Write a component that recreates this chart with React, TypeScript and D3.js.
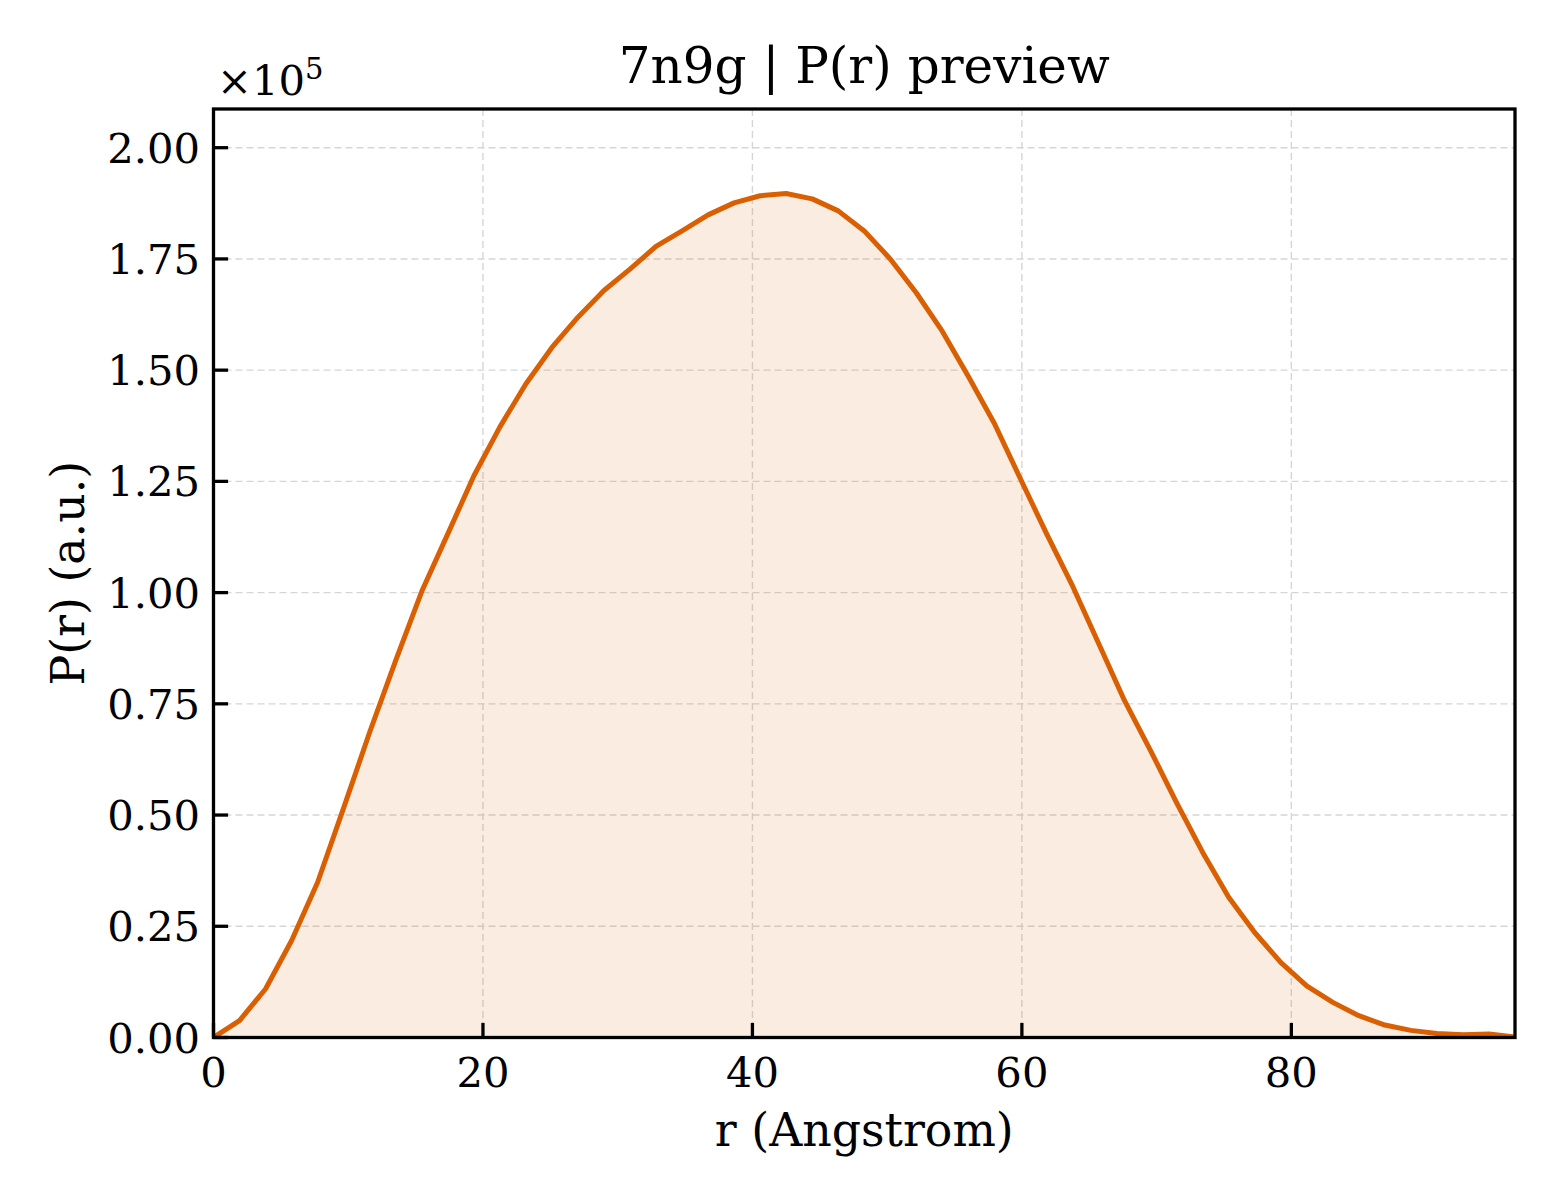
import * as React from 'react'
import * as d3 from 'd3'

const rValues = [
  0, 1.93, 3.86, 5.80, 7.73, 9.66, 11.59, 13.52, 15.46, 17.39, 19.32, 21.25, 23.18, 25.12, 27.05,
  28.98, 30.91, 32.84, 34.78, 36.71, 38.64, 40.57, 42.50, 44.44, 46.37, 48.30, 50.23, 52.16, 54.10,
  56.03, 57.96, 59.89, 61.82, 63.76, 65.69, 67.62, 69.55, 71.48, 73.42, 75.35, 77.28, 79.21, 81.14,
  83.08, 85.01, 86.94, 88.87, 90.80, 92.74, 94.67, 96.60,
]
const prValues = [
  0, 3800, 10900, 21800, 34900, 51600, 68600, 84700, 100300, 113200, 126200, 137200, 146900,
  155100, 161900, 167900, 172700, 177800, 181300, 184900, 187600, 189200, 189700, 188500, 185800,
  181300, 175000, 167400, 158700, 148600, 138000, 125600, 113300, 101500, 88600, 75700, 64500,
  52800, 41600, 31500, 23600, 16900, 11600, 7900, 4900, 2800, 1600, 900, 600, 800, 100,
]
const xTicks = [0, 20, 40, 60, 80]
const yTicks = [0, 25000, 50000, 75000, 100000, 125000, 150000, 175000, 200000]

const W = 1560
const H = 1200
const left = 213.5
const right = 1515
const top = 109
const bottom = 1037.5
const lineColor = '#d95f02'
const font = 'DejaVu Serif'

export default function App() {
  const x = d3.scaleLinear().domain([0, 96.6]).range([left, right])
  const y = d3.scaleLinear().domain([0, 208700]).range([bottom, top])

  const points = rValues.map((r, i) => [r, prValues[i]] as [number, number])
  const line = d3.line<[number, number]>().x(d => x(d[0])).y(d => y(d[1]))
  const area = d3.area<[number, number]>().x(d => x(d[0])).y0(y(0)).y1(d => y(d[1]))

  return (
    <svg width={W} height={H} style={{ position: 'absolute', left: 0, top: 0, background: '#fff' }}>
      <defs>
        <clipPath id="plot">
          <rect x={left} y={top} width={right - left} height={bottom - top} />
        </clipPath>
      </defs>

      {/* grid */}
      {xTicks.map(t => (
        <line key={'gx' + t} x1={x(t)} x2={x(t)} y1={top} y2={bottom}
          stroke="#d6d6d6" strokeWidth={1.4} strokeDasharray="7,4" />
      ))}
      {yTicks.map(t => (
        <line key={'gy' + t} x1={left} x2={right} y1={y(t)} y2={y(t)}
          stroke="#d6d6d6" strokeWidth={1.4} strokeDasharray="7,4" />
      ))}

      <g clipPath="url(#plot)">
        <path d={area(points)!} fill={lineColor} fillOpacity={0.12} />
        <path d={line(points)!} fill="none" stroke={lineColor} strokeWidth={5} strokeLinejoin="round" />
      </g>

      {/* ticks, pointing inward */}
      {xTicks.map(t => (
        <g key={'tx' + t}>
          <line x1={x(t)} x2={x(t)} y1={bottom} y2={bottom - 14.6} stroke="#000" strokeWidth={3.3} />
          <text x={x(t)} y={1087} textAnchor="middle" fontFamily={font} fontSize={41.7} fill="#000">
            {t}
          </text>
        </g>
      ))}
      {yTicks.map(t => (
        <g key={'ty' + t}>
          <line x1={left} x2={left + 14.6} y1={y(t)} y2={y(t)} stroke="#000" strokeWidth={3.3} />
          <text x={200} y={y(t)} dy="0.36em" textAnchor="end" fontFamily={font} fontSize={41.7} fill="#000">
            {(t / 1e5).toFixed(2)}
          </text>
        </g>
      ))}

      {/* frame */}
      <rect x={left} y={top} width={right - left} height={bottom - top} fill="none" stroke="#000" strokeWidth={3.3} />

      {/* offset text */}
      <text x={217} y={95} fontFamily={font} fontSize={41.7} fill="#000">
        ×10<tspan dy={-16} fontSize={29}>5</tspan>
      </text>

      <text x={(left + right) / 2} y={83} textAnchor="middle" fontFamily={font} fontSize={50} fill="#000">
        7n9g | P(r) preview
      </text>
      <text x={(left + right) / 2} y={1146} textAnchor="middle" fontFamily={font} fontSize={45.8} fill="#000">
        r (Angstrom)
      </text>
      <text transform={`translate(84, ${(top + bottom) / 2}) rotate(-90)`} textAnchor="middle"
        fontFamily={font} fontSize={45.8} fill="#000">
        P(r) (a.u.)
      </text>
    </svg>
  )
}
